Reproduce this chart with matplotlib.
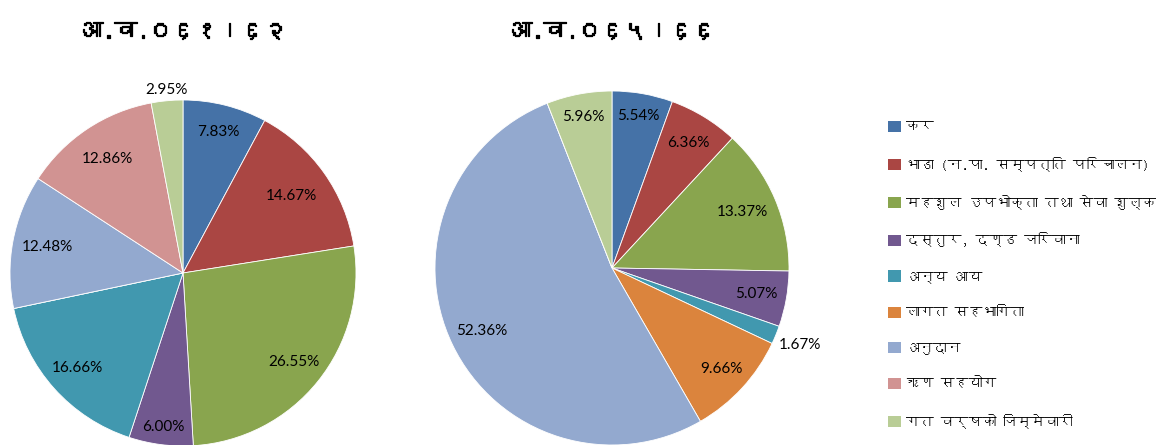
import matplotlib
matplotlib.use("Agg")
import matplotlib.pyplot as plt
import matplotlib.patheffects as pe
import numpy as np
from matplotlib import font_manager
from matplotlib.ft2font import FT2Font
from matplotlib.patches import Patch

# data (percent of total income)
categories = ["कर", "भाडा (न.पा. सम्पत्ति परिचालन)", "महशुल उपभोक्ता तथा सेवा शुल्क",
              "दस्तुर, दण्ड जरिवाना", "अन्य आय", "लागत सहभागिता", "अनुदान",
              "ऋण सहयोग", "गत वर्षको जिम्मेवारी"]
title_6162 = "आ.व.०६१।६२"
title_6566 = "आ.व.०६५।६६"
values_6162 = [7.83, 14.67, 26.55, 6.00, 16.66, 0.0, 12.48, 12.86, 2.95]
values_6566 = [5.54, 6.36, 13.37, 5.07, 1.67, 9.66, 52.36, 0.0, 5.96]

colors = ["#4572A7", "#AA4643", "#89A54E", "#71588F", "#4198AF",
          "#DB843D", "#93A9CF", "#D19392", "#B9CD96"]

# radial position of each percentage label (fraction of radius)
dist_6162 = [0.84, 0.77, 0.82, 0.90, 0.82, 0.8, 0.80, 0.79, 1.06]
dist_6566 = [0.87, 0.83, 0.80, 0.83, 1.15, 0.84, 0.82, 0.8, 0.87]


def find_font(ch):
    for f in font_manager.fontManager.ttflist:
        try:
            if ord(ch) in FT2Font(f.fname).get_charmap():
                return f.name
        except Exception:
            pass
    return None


deva = find_font("क")
deva_family = [deva, "DejaVu Sans"] if deva else ["DejaVu Sans"]
num_family = ["Lato", "DejaVu Sans"]

fig = plt.figure(figsize=(11.59, 4.45), dpi=100)
W, H = 1159, 445


def draw_pie(cx, cy, r, values, dists, title):
    ax = fig.add_axes([(cx - r) / W, (H - cy - r) / H, 2 * r / W, 2 * r / H])
    wedges, _ = ax.pie(values, colors=colors, startangle=90, counterclock=False,
                       radius=1, wedgeprops=dict(edgecolor="white", linewidth=0.6))
    for w, v, d in zip(wedges, values, dists):
        if v <= 0:
            continue
        t = np.deg2rad((w.theta1 + w.theta2) / 2)
        ax.text(d * np.cos(t), d * np.sin(t), f"{v:.2f}%", ha="center", va="center",
                fontsize=11, family=num_family, color="black")
    ax.set_xlim(-1, 1)
    ax.set_ylim(-1, 1)
    ax.set_axis_off()
    fig.text(cx / W, 1 - 31 / H, title, ha="center", va="center", fontsize=16.5,
             family=deva_family, color="black",
             path_effects=[pe.withStroke(linewidth=0.9, foreground="black")])


draw_pie(183, 273, 173, values_6162, dist_6162, title_6162)
draw_pie(612, 268, 177, values_6566, dist_6566, title_6566)

handles = [Patch(facecolor=c, edgecolor="none") for c in colors]
fig.legend(handles, categories, loc="upper left", bbox_to_anchor=(888 / W, 1 - 121 / H),
           frameon=False, prop={"family": deva_family, "size": 10},
           handlelength=0.9, handleheight=0.85, handletextpad=0.4,
           labelspacing=1.66, borderpad=0, borderaxespad=0)
for t in fig.legends[0].get_texts():
    t.set_color("black")

fig.savefig("out.png", dpi=100)
